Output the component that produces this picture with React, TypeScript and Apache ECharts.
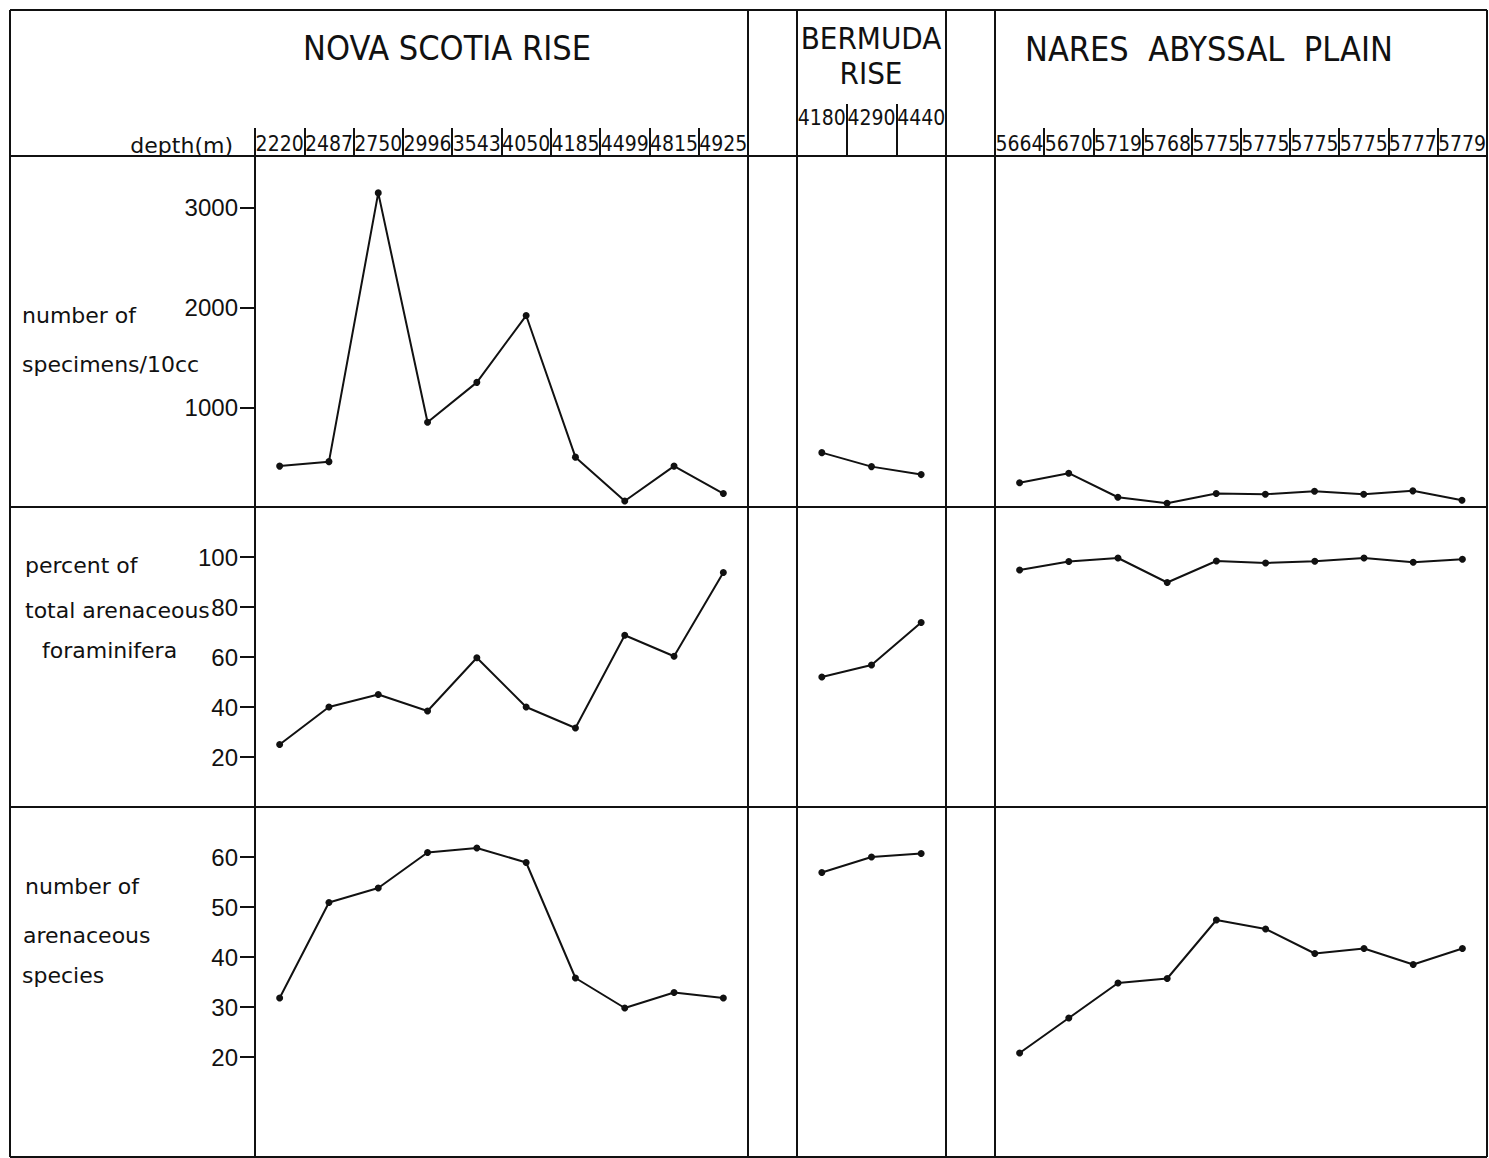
import React, { useEffect, useRef } from "react";
import * as echarts from "echarts";

// ---- data ----
const nsDepths = ["2220", "2487", "2750", "2996", "3543", "4050", "4185", "4499", "4815", "4925"];
const bmDepths = ["4180", "4290", "4440"];
const naDepths = ["5664", "5670", "5719", "5768", "5775", "5775", "5775", "5775", "5777", "5779"];

const nsSpecimens = [410, 455, 3150, 850, 1250, 1920, 500, 60, 410, 135];
const bmSpecimens = [545, 405, 325];
const naSpecimens = [243, 339, 98, 38, 135, 128, 158, 128, 162, 68];

const nsPercent = [25, 40, 45, 38.4, 59.7, 40, 31.6, 68.7, 60.3, 93.8];
const bmPercent = [52, 56.8, 73.8];
const naPercent = [94.8, 98.2, 99.6, 89.8, 98.4, 97.6, 98.3, 99.6, 97.9, 99.1];

const nsSpecies = [31.8, 50.9, 53.8, 60.9, 61.8, 58.9, 35.8, 29.8, 32.9, 31.8];
const bmSpecies = [56.9, 60, 60.7];
const naSpecies = [20.8, 27.8, 34.8, 35.7, 47.4, 45.6, 40.7, 41.7, 38.5, 41.7];

const specimenTicks = [1000, 2000, 3000];
const percentTicks = [20, 40, 60, 80, 100];
const speciesTicks = [20, 30, 40, 50, 60];

const regionTitles = ["NOVA SCOTIA RISE", "BERMUDA\nRISE", "NARES  ABYSSAL  PLAIN"];
const rowLabels = [
  ["number of", "specimens/10cc"],
  ["percent of", "total arenaceous", "foraminifera"],
  ["number of", "arenaceous", "species"],
];

// ---- layout ----
const INK = "#111";
const COND = "'DejaVu Sans Condensed', 'Liberation Sans Narrow', 'Liberation Sans', sans-serif";
const SANS = "'Liberation Sans', Arial, sans-serif";
const WIDE = "'DejaVu Sans', 'Liberation Sans', sans-serif";

const cols = [
  { left: 255, width: 493 },
  { left: 797, width: 149 },
  { left: 995, width: 492 },
];
const rows = [
  { top: 156, height: 351, min: 0, max: 3520, ticks: specimenTicks },
  { top: 507, height: 300, min: 0, max: 120, ticks: percentTicks },
  { top: 807, height: 350, min: 0, max: 70, ticks: speciesTicks },
];
const colDepths = [nsDepths, bmDepths, naDepths];
const seriesData = [
  [nsSpecimens, bmSpecimens, naSpecimens],
  [nsPercent, bmPercent, naPercent],
  [nsSpecies, bmSpecies, naSpecies],
];
const headerTick = [{ len: 28, margin: 2 }, { len: 52, margin: 28 }, { len: 28, margin: 2 }];

function buildOption() {
  const grid: any[] = [];
  const xAxis: any[] = [];
  const yAxis: any[] = [];
  const series: any[] = [];
  rows.forEach((r, ri) => {
    cols.forEach((c, ci) => {
      const idx = grid.length;
      grid.push({ left: c.left, top: r.top, width: c.width, height: r.height, show: false });
      xAxis.push({
        type: "category",
        gridIndex: idx,
        data: colDepths[ci],
        position: "top",
        show: ri === 0,
        axisLine: { show: false, onZero: false },
        axisTick: { show: ri === 0, length: headerTick[ci].len, lineStyle: { color: INK, width: 2 } },
        axisLabel: {
          show: ri === 0,
          interval: 0,
          margin: headerTick[ci].margin,
          fontSize: 21,
          fontFamily: COND,
          color: INK,
        },
        splitLine: { show: false },
      });
      yAxis.push({
        type: "value",
        gridIndex: idx,
        min: r.min,
        max: r.max,
        show: ci === 0,
        axisLine: { show: false, onZero: false },
        splitLine: { show: false },
        axisTick: { show: ci === 0, length: 15, customValues: r.ticks, lineStyle: { color: INK, width: 2 } },
        axisLabel: {
          show: ci === 0,
          customValues: r.ticks,
          formatter: (v: number) => String(v),
          margin: 17,
          fontSize: 24,
          fontFamily: SANS,
          color: INK,
        },
      });
      series.push({
        type: "line",
        xAxisIndex: idx,
        yAxisIndex: idx,
        data: seriesData[ri][ci],
        symbol: "circle",
        symbolSize: 7,
        lineStyle: { color: INK, width: 2 },
        itemStyle: { color: INK },
        silent: true,
      });
    });
  });

  const L = (x1: number, y1: number, x2: number, y2: number) => ({
    type: "line",
    shape: { x1, y1, x2, y2 },
    style: { stroke: INK, lineWidth: 2 },
    silent: true,
  });
  const T = (text: string, x: number, y: number, font: string, size: number, align = "left") => ({
    type: "text",
    x,
    y,
    silent: true,
    style: { text, fontFamily: font, fontSize: size, fill: INK, textAlign: align, textVerticalAlign: "middle" },
  });

  const graphic: any[] = [
    // frame
    L(10, 10, 1487, 10),
    L(10, 1157, 1487, 1157),
    L(10, 10, 10, 1157),
    L(1487, 10, 1487, 1157),
    L(10, 156, 1487, 156),
    L(10, 507, 1487, 507),
    L(10, 807, 1487, 807),
    L(748, 10, 748, 1157),
    L(797, 10, 797, 1157),
    L(946, 10, 946, 1157),
    L(995, 10, 995, 1157),
    L(255, 156, 255, 1157),
    // titles
    T(regionTitles[0], 447, 48, COND, 34, "center"),
    {
      type: "text",
      x: 871,
      y: 55,
      silent: true,
      style: {
        text: regionTitles[1],
        fontFamily: COND,
        fontSize: 31,
        lineHeight: 35,
        fill: INK,
        textAlign: "center",
        textVerticalAlign: "middle",
      },
    },
    T(regionTitles[2], 1025, 49, COND, 34, "left"),
    T("depth(m)", 233, 145, WIDE, 22, "right"),
    // row labels
    T(rowLabels[0][0], 22, 315, WIDE, 22),
    T(rowLabels[0][1], 22, 364, WIDE, 22),
    T(rowLabels[1][0], 25, 565, WIDE, 22),
    T(rowLabels[1][1], 25, 610, WIDE, 22),
    T(rowLabels[1][2], 42, 650, WIDE, 22),
    T(rowLabels[2][0], 25, 886, WIDE, 22),
    T(rowLabels[2][1], 23, 935, WIDE, 22),
    T(rowLabels[2][2], 22, 975, WIDE, 22),
  ];

  return {
    animation: false,
    backgroundColor: "#fff",
    grid,
    xAxis,
    yAxis,
    series,
    graphic,
  };
}

export default function App() {
  const ref = useRef<HTMLDivElement>(null);
  useEffect(() => {
    document.body.style.margin = "0";
    if (!ref.current) return;
    const chart = echarts.init(ref.current, undefined, { renderer: "svg" });
    chart.setOption(buildOption() as any);
    return () => chart.dispose();
  }, []);
  return <div ref={ref} style={{ width: 1489, height: 1158 }} />;
}
